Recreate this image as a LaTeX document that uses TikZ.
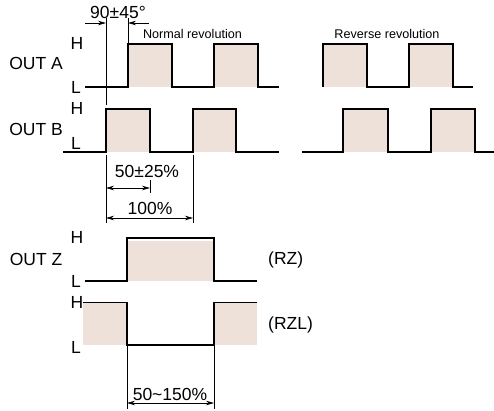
\documentclass[tikz,border=0pt]{standalone}
\usepackage{fontspec}
\setmainfont{Liberation Sans}
\usetikzlibrary{arrows.meta}
\definecolor{pulse}{RGB}{237,225,218}
\begin{document}
\begin{tikzpicture}[x=1bp,y=-1bp,
  sig/.style={line width=1.8bp, line join=miter, line cap=butt},
  thinsig/.style={line width=0.9bp},
  dim/.style={line width=0.7bp},
  dimarr/.style={dim, -{Stealth[length=8bp,width=4.5bp]}},
  dimboth/.style={dim, {Stealth[length=8bp,width=4.5bp]}-{Stealth[length=8bp,width=4.5bp]}},
  lbl/.style={font=\fontsize{17.5bp}{20bp}\selectfont, inner sep=0},
  small/.style={font=\fontsize{12.6bp}{15bp}\selectfont, inner sep=0},
  pf/.style={fill=pulse}]
\useasboundingbox (0,0) rectangle (494,410);
\fill[white] (0,0) rectangle (494,410);

% ---------- OUT A normal ----------
\fill[pf] (128,44) rectangle (172,87);
\fill[pf] (214,44) rectangle (258,87);
\draw[sig] (85,87) -- (128,87) -- (128,44) -- (172,44) -- (172,87) -- (214,87) -- (214,44) -- (258,44) -- (258,87) -- (279,87);
% ---------- OUT A reverse ----------
\fill[pf] (323,44) rectangle (367,87);
\fill[pf] (409,44) rectangle (453,87);
\draw[sig] (323,87) -- (323,44) -- (367,44) -- (367,87) -- (409,87) -- (409,44) -- (453,44) -- (453,87) -- (473,87);

% ---------- OUT B normal ----------
\fill[pf] (106,109) rectangle (150,152);
\fill[pf] (193,109) rectangle (236,152);
\draw[sig] (63,152) -- (106,152) -- (106,109) -- (150,109) -- (150,152) -- (193,152) -- (193,109) -- (236,109) -- (236,152) -- (279,152);
% ---------- OUT B reverse ----------
\fill[pf] (343,109) rectangle (388,152);
\fill[pf] (431,109) rectangle (475,152);
\draw[sig] (302,152) -- (343,152) -- (343,109) -- (388,109) -- (388,152) -- (431,152) -- (431,109) -- (475,109) -- (475,152) -- (494,152);

% ---------- OUT Z (RZ) ----------
\fill[pf] (127,241) rectangle (214,281);
\draw[sig] (85,281) -- (127,281) -- (127,238) -- (214,238) -- (214,281) -- (257,281);
% ---------- OUT Z (RZL) ----------
\fill[pf] (83,302) rectangle (127,345);
\fill[pf] (214,302) rectangle (257,345);
\draw[thinsig] (83,302) -- (127,302);
\draw[thinsig] (214,302) -- (257,302);
\draw[sig] (127,302) -- (127,345) -- (214,345) -- (214,302);

% ---------- dimension 90+-45 ----------
\draw[dim] (106,18) -- (106,105);
\draw[dim] (128,18) -- (128,44);
\draw[dimarr] (85,23) -- (106,23);
\draw[dimarr] (149,23) -- (128,23);
\node[lbl] (tphase) at (118,12) {90±45°};

% ---------- dimension 50+-25 and 100 ----------
\draw[dim] (106,155) -- (106,223);
\draw[dim] (193,155) -- (193,223);
\draw[dim] (150,180) -- (150,193);
\draw[dimboth] (106,188) -- (150,188);
\node[lbl] (tduty) at (147,171) {50±25\%};
\draw[dimboth] (106,218) -- (193,218);
\node[lbl] (tperiod) at (150,208) {100\%};

% ---------- dimension 50~150 ----------
\draw[dim] (127,345) -- (127,409);
\draw[dim] (214,345) -- (214,409);
\draw[dimboth] (127,403) -- (214,403);
\node[lbl] (tz) at (170,394) {50\char"007E 150\%};

% ---------- labels ----------
\node[small] (tnorm) at (192.5,34) {Normal revolution};
\node[small] (trev) at (387,34) {Reverse revolution};

\node[lbl] (outa) at (36,63) {OUT A};
\node[lbl] (outb) at (36,129) {OUT B};
\node[lbl] (outz) at (36,259) {OUT Z};

\node[lbl] (ha) at (77,43) {H};
\node[lbl] (la) at (76,87) {L};
\node[lbl] (hb) at (77,108) {H};
\node[lbl] (lb) at (76,143) {L};
\node[lbl] (hz) at (77,237) {H};
\node[lbl] (lz) at (76,281) {L};
\node[lbl] (hzl) at (77,302) {H};
\node[lbl] (lzl) at (76,347) {L};

\node[lbl, anchor=west] (rz) at (268,260) {(RZ)};
\node[lbl, anchor=west] (rzl) at (268,325) {(RZL)};
\end{tikzpicture}
\end{document}
